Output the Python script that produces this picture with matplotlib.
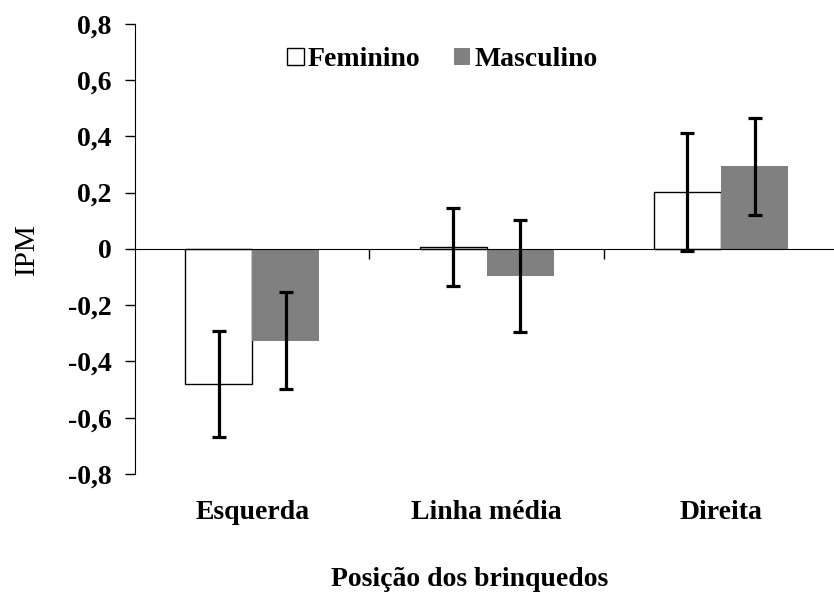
import matplotlib.pyplot as plt
from matplotlib.patches import Patch
import numpy as np

plt.rcParams['font.family'] = ['Liberation Serif', 'DejaVu Serif']
plt.rcParams['font.weight'] = 'bold'

categorias = ['Esquerda', 'Linha média', 'Direita']
feminino = [-0.48, 0.008, 0.203]
feminino_erro = [0.187, 0.139, 0.21]
masculino = [-0.326, -0.095, 0.293]
masculino_erro = [0.172, 0.199, 0.172]
yticks = [-0.8, -0.6, -0.4, -0.2, 0, 0.2, 0.4, 0.6, 0.8]
ytick_labels = ['-0,8', '-0,6', '-0,4', '-0,2', '0', '0,2', '0,4', '0,6', '0,8']

fig = plt.figure(figsize=(8.34, 5.94), dpi=100)
ax = fig.add_axes([0.162, 0.202, 0.843, 0.758])

x = np.arange(len(categorias)) + 0.5
w = 0.286

ax.bar(x - w/2, feminino, w, color='white', edgecolor='black', linewidth=1.0, zorder=2)
ax.bar(x + w/2, masculino, w, color='#808080', edgecolor='none', zorder=2)
ax.errorbar(x - w/2, feminino, yerr=feminino_erro, fmt='none', ecolor='black',
            elinewidth=2.3, capsize=4.7, capthick=2.3, zorder=3)
ax.errorbar(x + w/2, masculino, yerr=masculino_erro, fmt='none', ecolor='black',
            elinewidth=2.3, capsize=4.7, capthick=2.3, zorder=3)

ax.set_xlim(0, 3)
ax.set_ylim(-0.8, 0.8)
ax.set_yticks(yticks)
ax.set_yticklabels(ytick_labels, fontsize=20)
ax.tick_params(axis='y', direction='out', length=7, width=1, pad=10)

ax.spines['top'].set_visible(False)
ax.spines['right'].set_visible(False)
ax.spines['bottom'].set_position(('data', 0))
ax.set_xticks([1, 2])
ax.set_xticklabels(['', ''])
ax.tick_params(axis='x', direction='out', length=7, width=1)

for xi, nome in zip(x, categorias):
    ax.text(xi, -0.085, nome, transform=ax.get_xaxis_transform(),
            ha='center', va='center', fontsize=20)

fig.text(0.563, 0.025, 'Posição dos brinquedos', ha='center', va='center', fontsize=20)
ax.set_ylabel('IPM', fontsize=21, labelpad=20)

handles = [Patch(facecolor='white', edgecolor='black', linewidth=1.0),
           Patch(facecolor='#808080', edgecolor='none')]
ax.legend(handles, ['Feminino', 'Masculino'], ncol=2, frameon=False,
          loc='center', bbox_to_anchor=(0.437, 0.92), fontsize=20,
          handlelength=0.6, handleheight=0.6, handletextpad=0.15, columnspacing=1.2)

fig.savefig('out.png', dpi=100)
